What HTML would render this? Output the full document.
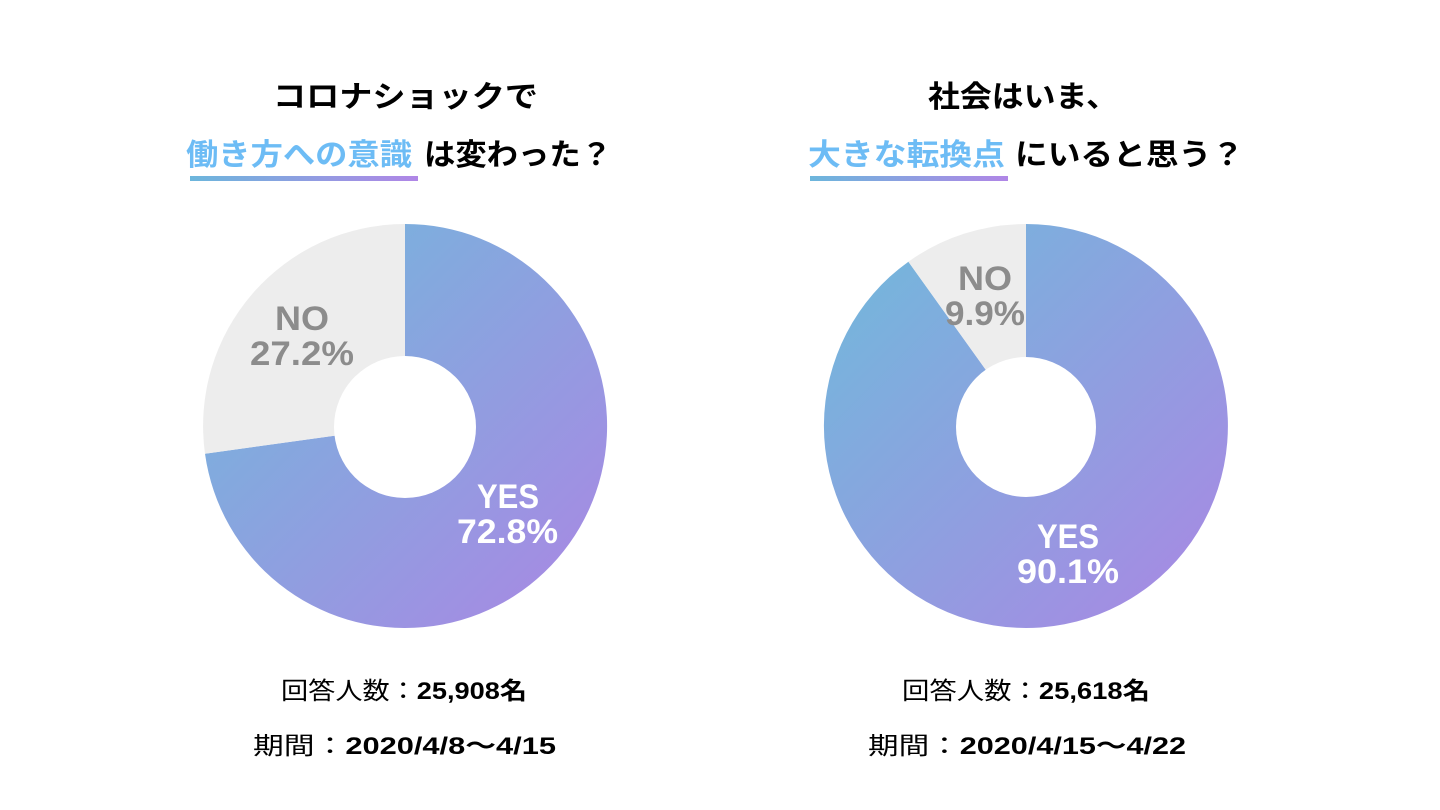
<!DOCTYPE html>
<html><head><meta charset="utf-8"><style>
html,body{margin:0;padding:0;background:#fff;}
svg{display:block;}
text{font-family:"Liberation Sans","Noto Sans CJK JP",sans-serif;font-weight:bold;}
</style></head><body>
<svg width="1440" height="810" viewBox="0 0 1440 810" xmlns="http://www.w3.org/2000/svg">
<defs>
<linearGradient id="g" x1="0" y1="0" x2="1" y2="1">
<stop offset="0" stop-color="#6fbbdb"/><stop offset="1" stop-color="#ab86e4"/>
</linearGradient>
<linearGradient id="bar" x1="0" y1="0" x2="1" y2="0">
<stop offset="0" stop-color="#6cb6dc"/><stop offset="1" stop-color="#b086e6"/>
</linearGradient>
</defs>
<rect width="1440" height="810" fill="#fff"/>

<text x="273" y="107" font-size="30" fill="#000" textLength="265" lengthAdjust="spacingAndGlyphs">コロナショックで</text>
<text x="186" y="165" font-size="30" fill="#6dbcf5" textLength="226" lengthAdjust="spacingAndGlyphs">働き方への意識</text>
<text x="424" y="165" font-size="30" fill="#000" textLength="188" lengthAdjust="spacingAndGlyphs">は変わった？</text>
<rect x="190" y="176" width="228" height="5" fill="url(#bar)"/>

<text x="928" y="107" font-size="30" fill="#000" textLength="190" lengthAdjust="spacingAndGlyphs">社会はいま、</text>
<text x="808" y="165" font-size="30" fill="#6dbcf5" textLength="197" lengthAdjust="spacingAndGlyphs">大きな転換点</text>
<text x="1015" y="165" font-size="30" fill="#000" textLength="229" lengthAdjust="spacingAndGlyphs">にいると思う？</text>
<rect x="810" y="176" width="198" height="5" fill="url(#bar)"/>

<path d="M405,426 L405,224 A202,202 0 1 1 205,453.7 Z" fill="url(#g)"/>
<path d="M405,426 L205,453.7 A202,202 0 0 1 405,224 Z" fill="#ededed"/>
<circle cx="405" cy="427" r="71" fill="#fff"/>
<text x="302" y="330" font-size="34" fill="#8c8c8c" text-anchor="middle" textLength="54" lengthAdjust="spacingAndGlyphs">NO</text>
<text x="250" y="365" font-size="34" fill="#8c8c8c" textLength="104" lengthAdjust="spacingAndGlyphs">27.2%</text>
<text x="508" y="508" font-size="34" fill="#fff" text-anchor="middle" textLength="62" lengthAdjust="spacingAndGlyphs">YES</text>
<text x="457" y="543" font-size="34" fill="#fff" textLength="101" lengthAdjust="spacingAndGlyphs">72.8%</text>

<path d="M1026,426 L1026,224 A202,202 0 1 1 908.4,261.7 Z" fill="url(#g)"/>
<path d="M1026,426 L908.4,261.7 A202,202 0 0 1 1026,224 Z" fill="#ededed"/>
<circle cx="1026" cy="427" r="70" fill="#fff"/>
<text x="985" y="290" font-size="34" fill="#8c8c8c" text-anchor="middle" textLength="54" lengthAdjust="spacingAndGlyphs">NO</text>
<text x="945" y="325" font-size="34" fill="#8c8c8c" textLength="80" lengthAdjust="spacingAndGlyphs">9.9%</text>
<text x="1068" y="548" font-size="34" fill="#fff" text-anchor="middle" textLength="62" lengthAdjust="spacingAndGlyphs">YES</text>
<text x="1017" y="583" font-size="34" fill="#fff" textLength="102" lengthAdjust="spacingAndGlyphs">90.1%</text>

<text x="281" y="699" font-size="24" fill="#000" textLength="246" lengthAdjust="spacingAndGlyphs"><tspan font-weight="normal">回答人数：</tspan>25,908名</text>
<text x="253" y="754" font-size="24" fill="#000" textLength="303" lengthAdjust="spacingAndGlyphs"><tspan font-weight="normal">期間：</tspan>2020/4/8〜4/15</text>
<text x="902" y="699" font-size="24" fill="#000" textLength="248" lengthAdjust="spacingAndGlyphs"><tspan font-weight="normal">回答人数：</tspan>25,618名</text>
<text x="868" y="754" font-size="24" fill="#000" textLength="318" lengthAdjust="spacingAndGlyphs"><tspan font-weight="normal">期間：</tspan>2020/4/15〜4/22</text>
</svg>
</body></html>
